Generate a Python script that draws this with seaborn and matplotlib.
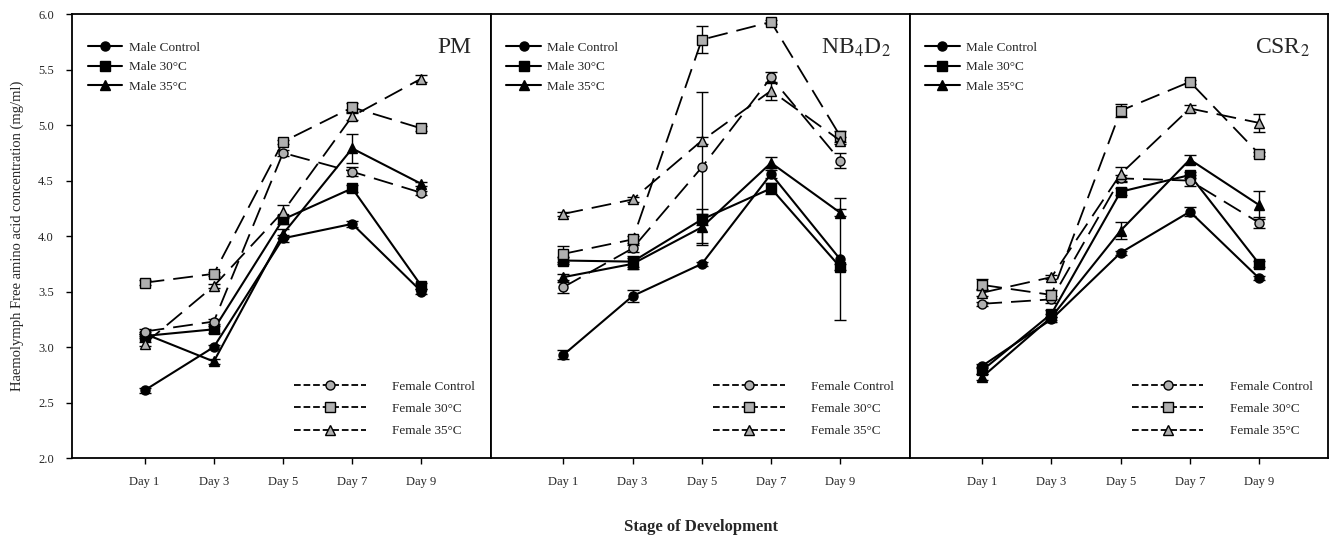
"""Haemolymph free amino acid concentration across three silkworm breeds."""

import matplotlib.pyplot as plt
import seaborn as sns
from matplotlib.lines import Line2D

DAYS = [1, 3, 5, 7, 9]
DAY_LABELS = ["Day 1", "Day 3", "Day 5", "Day 7", "Day 9"]
PANELS = ["PM", r"NB$_4$D$_2$", r"CSR$_2$"]
SERIES = ["Male Control", "Male 30°C", "Male 35°C",
          "Female Control", "Female 30°C", "Female 35°C"]

# PM
pm_male_control = [2.61, 3.00, 3.98, 4.11, 3.50]
pm_male_30 = [3.10, 3.16, 4.15, 4.43, 3.55]
pm_male_35 = [3.12, 2.87, 4.02, 4.79, 4.47]
pm_female_control = [3.14, 3.23, 4.75, 4.58, 4.39]
pm_female_30 = [3.58, 3.66, 4.85, 5.16, 4.97]
pm_female_35 = [3.03, 3.55, 4.22, 5.08, 5.42]
pm_err = [
    [0.02, 0.02, 0.03, 0.03, 0.02],
    [0.02, 0.03, 0.04, 0.03, 0.03],
    [0.02, 0.02, 0.04, 0.13, 0.02],
    [0.02, 0.02, 0.03, 0.04, 0.02],
    [0.02, 0.02, 0.02, 0.04, 0.02],
    [0.02, 0.02, 0.06, 0.03, 0.03],
]

# NB4D2
nb_male_control = [2.93, 3.46, 3.75, 4.56, 3.79]
nb_male_30 = [3.78, 3.77, 4.15, 4.43, 3.72]
nb_male_35 = [3.63, 3.75, 4.08, 4.66, 4.21]
nb_female_control = [3.54, 3.89, 4.62, 5.43, 4.68]
nb_female_30 = [3.84, 3.97, 5.77, 5.93, 4.90]
nb_female_35 = [4.20, 4.33, 4.86, 5.31, 4.86]
nb_err = [
    [0.04, 0.05, 0.02, 0.04, 0.55],
    [0.03, 0.05, 0.05, 0.05, 0.03],
    [0.03, 0.05, 0.16, 0.05, 0.03],
    [0.05, 0.03, 0.68, 0.05, 0.07],
    [0.07, 0.03, 0.12, 0.02, 0.05],
    [0.02, 0.02, 0.03, 0.08, 0.03],
]

# CSR2
csr_male_control = [2.83, 3.25, 3.85, 4.22, 3.62]
csr_male_30 = [2.79, 3.30, 4.40, 4.55, 3.75]
csr_male_35 = [2.73, 3.27, 4.05, 4.69, 4.28]
csr_female_control = [3.39, 3.43, 4.52, 4.50, 4.12]
csr_female_30 = [3.56, 3.47, 5.13, 5.39, 4.74]
csr_female_35 = [3.49, 3.63, 4.56, 5.15, 5.02]
csr_err = [
    [0.02, 0.02, 0.02, 0.04, 0.02],
    [0.03, 0.03, 0.03, 0.03, 0.03],
    [0.03, 0.03, 0.08, 0.04, 0.13],
    [0.02, 0.03, 0.03, 0.05, 0.05],
    [0.05, 0.04, 0.06, 0.02, 0.02],
    [0.03, 0.02, 0.06, 0.03, 0.08],
]

PANEL_DATA = [
    ([pm_male_control, pm_male_30, pm_male_35,
      pm_female_control, pm_female_30, pm_female_35], pm_err),
    ([nb_male_control, nb_male_30, nb_male_35,
      nb_female_control, nb_female_30, nb_female_35], nb_err),
    ([csr_male_control, csr_male_30, csr_male_35,
      csr_female_control, csr_female_30, csr_female_35], csr_err),
]

MARKERS = ["o", "s", "^", "o", "s", "^"]
DASHED = (0, (11, 5))

sns.set_style("ticks")
plt.rcParams["font.family"] = ["Liberation Serif", "DejaVu Serif"]
plt.rcParams["mathtext.fontset"] = "stix"

fig, axes = plt.subplots(1, 3, figsize=(13.31, 5.44), dpi=100, sharey=True)
fig.subplots_adjust(left=0.054, right=0.998, bottom=0.158, top=0.974, wspace=0)

for ax, titulo, (series, errores) in zip(axes, PANELS, PANEL_DATA):
    handles = []
    for i, (nombre, valores, err) in enumerate(zip(SERIES, series, errores)):
        hembra = i >= 3
        ax.errorbar(DAYS, valores, yerr=err, fmt="none", ecolor="black",
                    elinewidth=1, capsize=4.5, capthick=1, zorder=2)
        sns.lineplot(
            x=DAYS, y=valores, ax=ax, color="black",
            linestyle=DASHED if hembra else "-",
            linewidth=1.3 if hembra else 1.5,
            marker=MARKERS[i], markersize=6.5 if MARKERS[i] != "^" else 7,
            markerfacecolor="#b0b0b0" if hembra else "black",
            markeredgecolor="black", markeredgewidth=1.0,
            legend=False, zorder=3,
        )
        linea = ax.lines[-1]
        handles.append(Line2D([], [], color="black",
                              linestyle=linea.get_linestyle(),
                              linewidth=linea.get_linewidth(),
                              marker=MARKERS[i], markersize=6.5,
                              markerfacecolor=linea.get_markerfacecolor(),
                              markeredgecolor="black"))

    leg_m = ax.legend(handles[:3], SERIES[:3], loc="upper left",
                      bbox_to_anchor=(0.025, 0.95), frameon=False,
                      fontsize=9.5, handlelength=2.6, handletextpad=0.5,
                      labelspacing=0.55, borderaxespad=0)
    ax.add_artist(leg_m)
    ax.legend(handles[3:], SERIES[3:], loc="lower right",
              bbox_to_anchor=(0.975, 0.035), frameon=False,
              fontsize=9.5, handlelength=5.4, handletextpad=2.0,
              labelspacing=0.75, borderaxespad=0)

    ax.text(0.955, 0.925, titulo, transform=ax.transAxes, ha="right",
            va="center", fontsize=17)

    ax.set_xlim(-1.1, 11)
    ax.set_ylim(2.0, 6.0)
    ax.set_xticks(DAYS)
    ax.set_xticklabels(DAY_LABELS)
    ax.set_yticks([2.0, 2.5, 3.0, 3.5, 4.0, 4.5, 5.0, 5.5, 6.0])
    ax.set_yticklabels([f"{v:.1f}" for v in ax.get_yticks()])
    ax.tick_params(axis="both", labelsize=9, direction="out", length=4,
                   width=1, color="black", pad=9)
    ax.set_xlabel("")
    for lado in ax.spines.values():
        lado.set_visible(True)
        lado.set_color("black")
        lado.set_linewidth(1.3)

axes[1].tick_params(axis="y", left=False)
axes[2].tick_params(axis="y", left=False)
axes[0].set_ylabel("Haemolymph Free amino acid concentration (mg/ml)",
                   fontsize=10.5, labelpad=10)
fig.text(0.527, 0.032, "Stage of Development", ha="center", va="center",
         fontsize=12, fontweight="bold")

fig.savefig("out.png", dpi=100)
